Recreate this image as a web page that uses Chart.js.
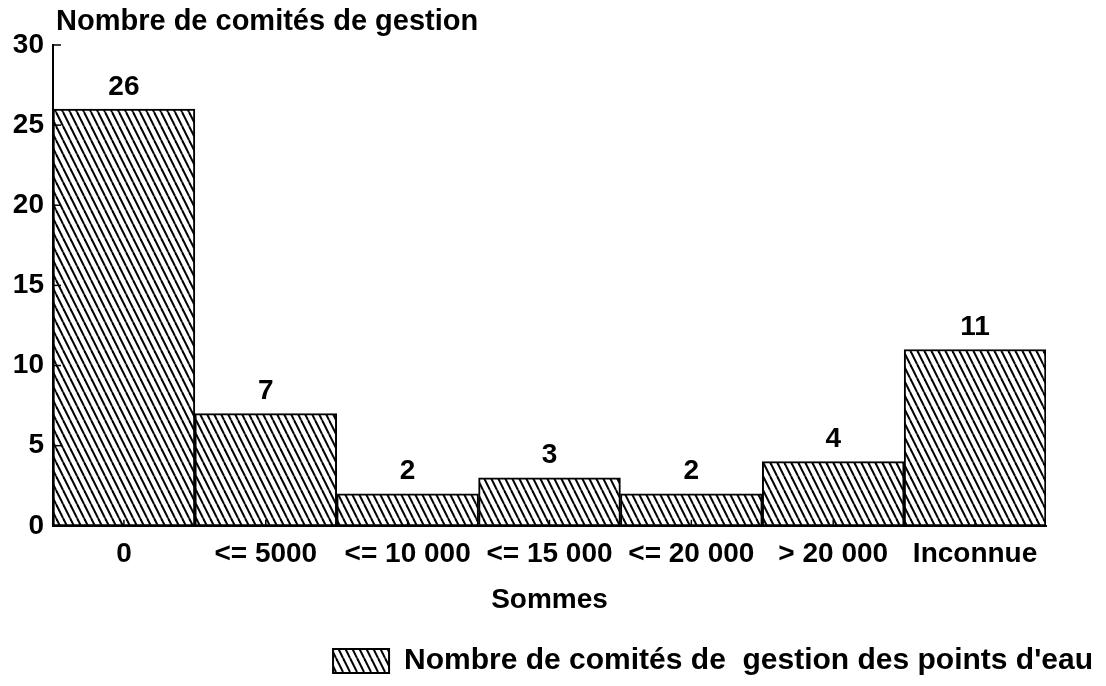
<!DOCTYPE html>
<html lang="fr">
<head>
<meta charset="utf-8">
<title>Comités de gestion</title>
<script src="https://cdn.jsdelivr.net/npm/chart.js@4/dist/chart.umd.min.js"></script>
<style>
  html, body { margin: 0; background: #fff; }
  #cadre { width: 1106px; height: 686px; }
</style>
</head>
<body>
<div id="cadre"><canvas id="grafica"></canvas></div>
<script>
// Sommes et nombre de comités
const categories = ['0', '<= 5000', '<= 10 000', '<= 15 000', '<= 20 000', '> 20 000', 'Inconnue'];
const comites = [26, 7, 2, 3, 2, 4, 11];
const yMax = 30;
const yPas = 5;

const titreY = 'Nombre de comités de gestion';
const titreX = 'Sommes';
const legende = "Nombre de comités de  gestion des points d'eau";

const police = '"Liberation Sans", Arial, sans-serif';

// hachures en diagonale pour les barres
function hachures() {
    const c = document.createElement('canvas');
    c.width = 7;
    c.height = 14;
    const g = c.getContext('2d');
    g.fillStyle = '#fff';
    g.fillRect(0, 0, 7, 14);
    g.strokeStyle = '#000';
    g.lineWidth = 2;
    for (let k = -2; k <= 2; k++) {
        g.beginPath();
        g.moveTo(k * 7, 0);
        g.lineTo(k * 7 + 7, 14);
        g.stroke();
    }
    return g.createPattern(c, 'repeat');
}

// petites graduations vers l'intérieur, valeurs au-dessus des barres, titre de l'axe
const marques = {
    id: 'marques',
    afterDatasetsDraw(chart) {
        const { ctx, chartArea, scales } = chart;
        const x = scales.x, y = scales.y;
        ctx.save();
        ctx.strokeStyle = '#000';
        ctx.lineWidth = 1.5;
        y.ticks.forEach(t => {
            const py = y.getPixelForValue(t.value);
            ctx.beginPath();
            ctx.moveTo(chartArea.left, py);
            ctx.lineTo(chartArea.left + 8, py);
            ctx.stroke();
        });
        x.ticks.forEach((t, i) => {
            const px = x.getPixelForValue(i);
            ctx.beginPath();
            ctx.moveTo(px, chartArea.bottom);
            ctx.lineTo(px, chartArea.bottom - 6);
            ctx.stroke();
        });

        ctx.fillStyle = '#000';
        ctx.font = 'bold 28px ' + police;
        ctx.textAlign = 'center';
        ctx.textBaseline = 'middle';
        chart.getDatasetMeta(0).data.forEach((barre, i) => {
            ctx.fillText(String(comites[i]), barre.x, barre.y - 22);
        });

        ctx.font = 'bold 29px ' + police;
        ctx.textAlign = 'left';
        ctx.fillText(titreY, chartArea.left + 3, 22);
        ctx.restore();
    }
};

Chart.defaults.font.family = police;
Chart.defaults.font.weight = 'bold';
Chart.defaults.font.size = 28;
Chart.defaults.color = '#000';

const ctx = document.getElementById('grafica').getContext('2d');

new Chart(ctx, {
    type: 'bar',
    data: {
        labels: categories,
        datasets: [{
            label: legende,
            data: comites,
            backgroundColor: hachures(),
            borderColor: '#000',
            borderWidth: 2,
            borderSkipped: false,
            categoryPercentage: 1,
            barPercentage: 1
        }]
    },
    options: {
        responsive: true,
        maintainAspectRatio: false,
        animation: false,
        layout: { padding: { top: 45, right: 3, bottom: 0, left: 0 } },
        plugins: {
            legend: {
                position: 'bottom',
                align: 'end',
                labels: {
                    boxWidth: 56,
                    boxHeight: 24,
                    padding: 10,
                    font: { size: 30, weight: 'bold' }
                }
            },
            tooltip: { enabled: false }
        },
        scales: {
            x: {
                grid: { display: false, drawTicks: false },
                border: { display: true, color: '#000', width: 2 },
                ticks: { padding: 12, maxRotation: 0, autoSkip: false },
                title: { display: true, text: titreX, padding: { top: 0, bottom: 19 } }
            },
            y: {
                min: 0,
                max: yMax,
                grid: { display: false, drawTicks: false },
                border: { display: true, color: '#000', width: 2 },
                ticks: { stepSize: yPas, padding: 9 },
                afterFit(scale) { scale.width = 53; }
            },
            marge: {
                type: 'linear',
                position: 'right',
                grid: { display: false, drawTicks: false },
                border: { display: false },
                ticks: { display: false },
                afterFit(scale) { scale.width = 57; }
            }
        }
    },
    plugins: [marques]
});
</script>
</body>
</html>
